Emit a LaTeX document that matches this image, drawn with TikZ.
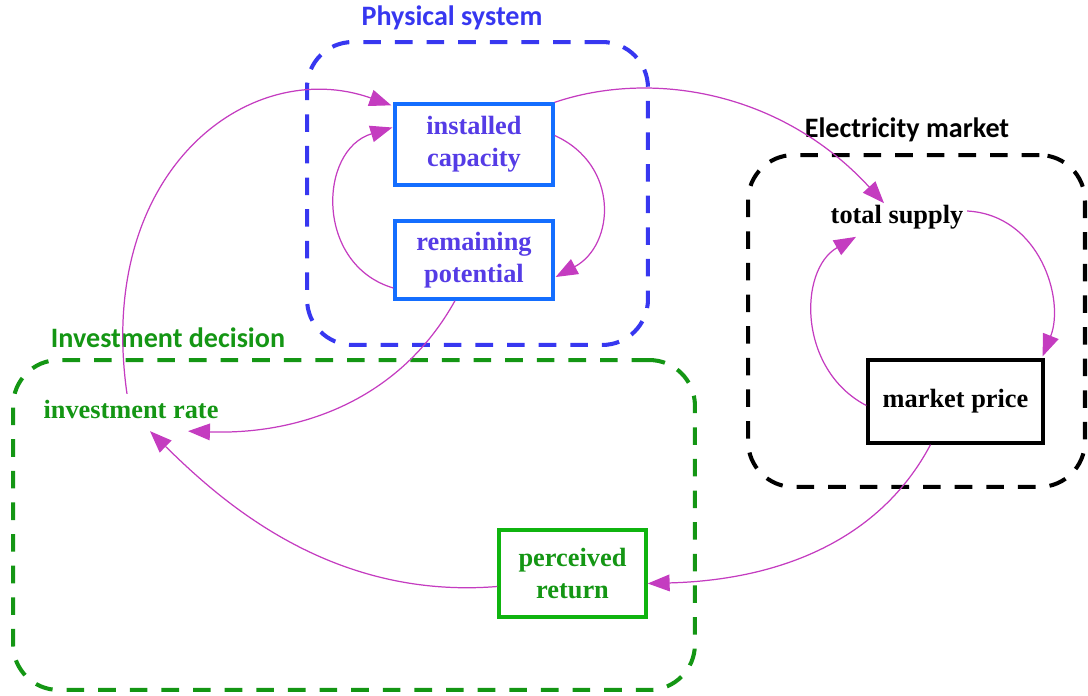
\documentclass[tikz,border=0pt]{standalone}
\usepackage{fontspec}
\setmainfont{Liberation Serif}
\newfontfamily\titlefont{Carlito}
\usetikzlibrary{arrows.meta,calc}

\definecolor{physblue}{RGB}{55,55,240}
\definecolor{boxblue}{RGB}{20,110,255}
\definecolor{textblue}{RGB}{85,60,230}
\definecolor{decgreen}{RGB}{20,150,20}
\definecolor{boxgreen}{RGB}{15,180,15}
\definecolor{linkpink}{RGB}{196,60,192}

\tikzset{
  region/.style={draw, line width=2.3pt, dash pattern=on 10pt off 8pt,
                 rounded corners=26pt, inner sep=0pt},
  regiontitle/.style={font=\titlefont\bfseries\fontsize{16}{19}\selectfont, inner sep=1pt},
  stock/.style={draw, line width=1.9pt, fill=white, align=center, inner sep=2pt,
                font=\bfseries\fontsize{15}{18}\selectfont},
  var/.style={align=center, inner sep=2pt, font=\bfseries\fontsize{15}{18}\selectfont},
  link/.style={draw=linkpink, line width=0.7pt,
               -{Triangle[length=12.5pt,width=9.5pt]}, color=linkpink},
}

\begin{document}
\begin{tikzpicture}[x=0.02cm, y=-0.02cm]
  \useasboundingbox (0,0) rectangle (1088,696);

  % dashed sector regions
  \node[region, draw=physblue, minimum width=6.82cm, minimum height=6.06cm] (phys) at (477.5,193.5) {};
  \node[region, draw=black, minimum width=6.74cm, minimum height=6.64cm] (mkt) at (916.5,321) {};
  \node[region, draw=decgreen, minimum width=13.64cm, minimum height=6.6cm] (dec) at (354,525) {};

  % region titles
  \node[regiontitle, text=physblue] (physT) at (452,18) {Physical system};
  \node[regiontitle, text=black] (mktT) at (907,130) {Electricity market};
  \node[regiontitle, text=decgreen] (decT) at (168,338) {Investment decision};

  % variables
  \node[stock, draw=boxblue, text=textblue, minimum width=3.16cm, minimum height=1.62cm]
       (ic) at (474,144.5) {installed\\capacity};
  \node[stock, draw=boxblue, text=textblue, minimum width=3.16cm, minimum height=1.56cm]
       (rp) at (474,260) {remaining\\potential};
  \node[var, text=black] (ts) at (897,217) {total supply};
  \node[stock, draw=black, text=black, minimum width=3.5cm, minimum height=1.66cm]
       (mp) at (955.5,401.5) {market price};
  \node[var, text=decgreen] (ir) at (131,409) {investment rate};
  \node[stock, draw=boxgreen, text=decgreen, minimum width=2.94cm, minimum height=1.74cm]
       (pr) at (572.5,573.5) {perceived\\return};

  % causal links
  \draw[link] ($(ir.north)+(-4,-2)$) .. controls (95,170) and (250,55) .. ($(ic.north west)+(-2,3)$);
  \draw[link] ($(rp.west)+(0,28)$) .. controls (315,265) and (318,150) .. ($(ic.west)+(-1,-17)$);
  \draw[link] ($(ic.east)+(0,-9)$) .. controls (620,165) and (615,245) .. ($(rp.east)+(1,17)$);
  \draw[link] (ic.north east) .. controls (650,70) and (780,90) .. ($(ts.north)+(-13,2)$);
  \draw[link] ($(rp.south)+(-19,0)$) .. controls (400,400) and (300,435) .. ($(ir.south)+(57,9)$);
  \draw[link] ($(ts.east)+(0,-6)$) .. controls (1040,215) and (1065,300) .. ($(mp.north east)+(-2,-2)$);
  \draw[link] ($(mp.west)+(0,4)$) .. controls (798,370) and (798,270) .. ($(ts.south)+(-41,4)$);
  \draw[link] ($(mp.south)+(-25,0)$) .. controls (880,540) and (780,580) .. ($(pr.east)+(0,10)$);
  \draw[link] ($(pr.west)+(0,13)$) .. controls (330,600) and (220,500) .. ($(ir.south)+(19,9)$);
\end{tikzpicture}
\end{document}
